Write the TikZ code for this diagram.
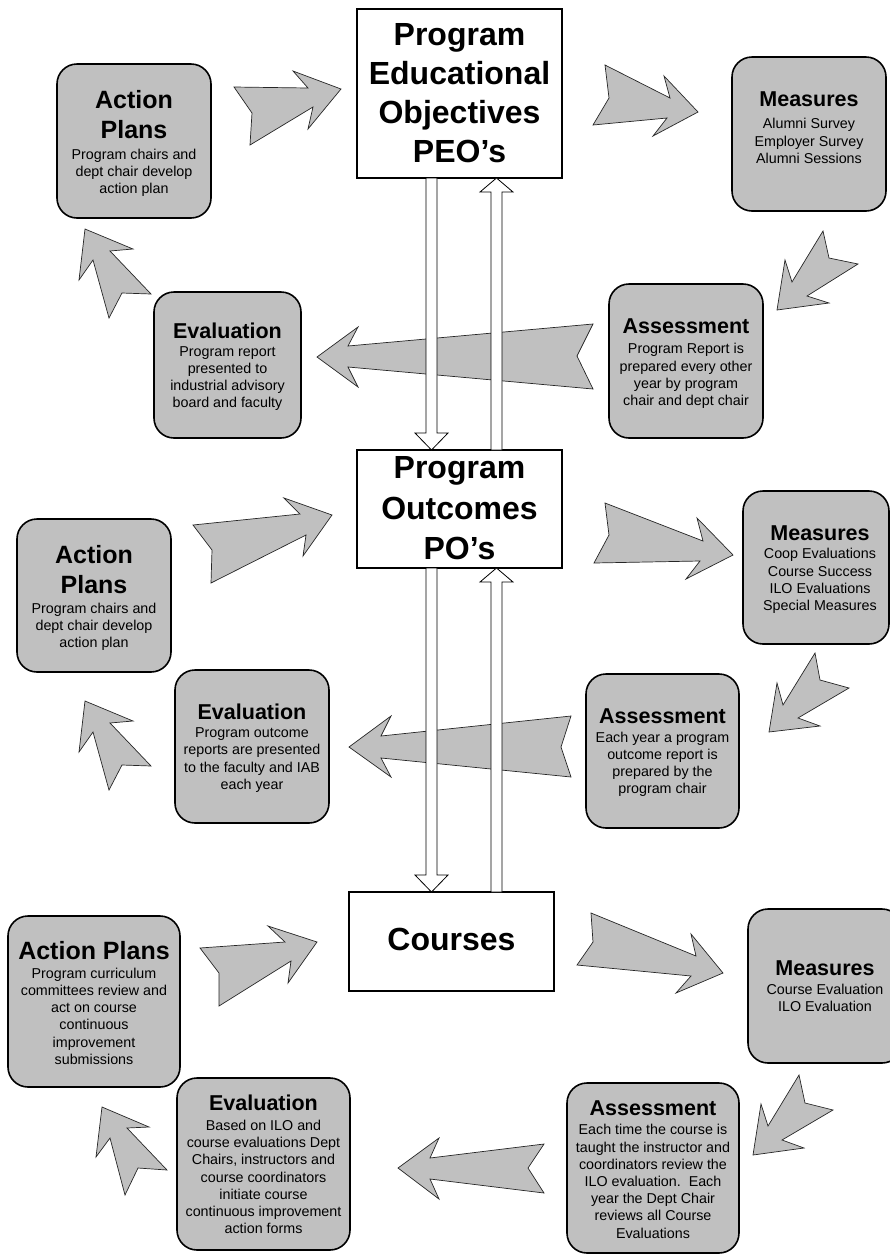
\documentclass[tikz,border=0pt]{standalone}
\usepackage{fontspec}
\setmainfont{Liberation Sans}
\usetikzlibrary{calc}
\definecolor{boxgray}{HTML}{C0C0C0}
\tikzset{
  gbox/.style={draw=black, line width=1.6pt, fill=boxgray, rounded corners=20pt, inner sep=0pt, outer sep=0pt},
  wbox/.style={draw=black, line width=1.6pt, fill=white, inner sep=0pt, outer sep=0pt},
  blockarrow/.style={draw=black!85, line width=0.7pt, fill=boxgray, line join=miter},
  varrow/.style={draw=black, line width=0.8pt, fill=white, line join=miter},
  bigtxt/.style={anchor=north, inner sep=0pt, align=center, font=\fontsize{32}{39}\selectfont\bfseries},
  ttl/.style={anchor=north, inner sep=0pt, align=center, font=\fontsize{21.5}{25}\selectfont\bfseries},
  ttlL/.style={anchor=north, inner sep=0pt, align=center, font=\fontsize{25}{30}\selectfont\bfseries},
  body/.style={anchor=north, inner sep=0pt, align=center, font=\fontsize{14.3}{17.2}\selectfont}
}
\newcommand\vdownarrow[3]{% x-ref coordinate, from node anchor, to node anchor
  \draw[varrow] ($(#1 |- #2)+(-5.5,0)$) -- ($(#1 |- #2)+(5.5,0)$) -- ($(#1 |- #3)+(5.5,-17)$)
    -- ($(#1 |- #3)+(16.5,-17)$) -- (#1 |- #3) -- ($(#1 |- #3)+(-16.5,-17)$)
    -- ($(#1 |- #3)+(-5.5,-17)$) -- cycle;}
\newcommand\vuparrow[3]{% x-ref coordinate, from node anchor (bottom), to node anchor (top)
  \draw[varrow] ($(#1 |- #2)+(-5.5,0)$) -- ($(#1 |- #2)+(5.5,0)$) -- ($(#1 |- #3)+(5.5,14)$)
    -- ($(#1 |- #3)+(16.5,14)$) -- (#1 |- #3) -- ($(#1 |- #3)+(-16.5,14)$)
    -- ($(#1 |- #3)+(-5.5,14)$) -- cycle;}
\begin{document}
\begin{tikzpicture}[x=1pt,y=-1pt]
\useasboundingbox (0,0) rectangle (890,1254);

% ---- block arrows: top tier
\draw[blockarrow] (234,87) -- (308,88) -- (293,71) -- (341,89) -- (308,129) -- (313,107) -- (250,145) -- (252,113) -- cycle;
\draw[blockarrow] (605,65) -- (670,98) -- (664,76) -- (698,112) -- (653,136) -- (667,118) -- (593,125) -- (609,98) -- cycle;
\draw[blockarrow] (777,310) -- (785,260) -- (792,282) -- (823,231) -- (829,258) -- (858,264) -- (807,296) -- (829,303) -- cycle;
\draw[blockarrow] (317,357) -- (358,327) -- (348,346) -- (593,324) -- (577,356) -- (593,389) -- (348,367) -- (358,387) -- cycle;
\draw[blockarrow] (85,229) -- (133,249) -- (110,251) -- (151,294) -- (122,293) -- (109,318) -- (93,260) -- (79,280) -- cycle;
% ---- middle tier
\draw[blockarrow] (193,525) -- (300,514) -- (284,498) -- (332,515) -- (303,556) -- (306,535) -- (211,583) -- (212,550) -- cycle;
\draw[blockarrow] (605,503) -- (703,541) -- (697,518) -- (733,555) -- (686,579) -- (700,561) -- (594,563) -- (609,535) -- cycle;
\draw[blockarrow] (769,732) -- (777,683) -- (783,705) -- (815,653) -- (820,680) -- (849,688) -- (798,718) -- (820,726) -- cycle;
\draw[blockarrow] (349,747) -- (391,716) -- (381,736) -- (571,716) -- (561,747) -- (571,777) -- (381,758) -- (391,777) -- cycle;
\draw[blockarrow] (85,701) -- (133,721) -- (110,723) -- (151,766) -- (122,765) -- (109,790) -- (93,732) -- (79,752) -- cycle;
% ---- bottom tier
\draw[blockarrow] (200,948) -- (285,942) -- (268,926) -- (317,942) -- (288,983) -- (291,961) -- (219,1006) -- (219,973) -- cycle;
\draw[blockarrow] (591,913) -- (696,956) -- (691,934) -- (723,973) -- (676,993) -- (691,976) -- (577,965) -- (593,942) -- cycle;
\draw[blockarrow] (753,1155) -- (761,1104) -- (768,1126) -- (799,1075) -- (805,1103) -- (833,1110) -- (782,1140) -- (804,1148) -- cycle;
\draw[blockarrow] (398,1168) -- (439,1138) -- (430,1158) -- (544,1144) -- (528,1168) -- (544,1193) -- (430,1179) -- (439,1199) -- cycle;
\draw[blockarrow] (102,1107) -- (149,1127) -- (127,1128) -- (167,1170) -- (138,1168) -- (125,1195) -- (110,1138) -- (96,1157) -- cycle;

% ---- boxes
\node[wbox, minimum width=205pt, minimum height=169pt] (peo) at (459.5,93.5) {};
\node[wbox, minimum width=205pt, minimum height=118pt] (po) at (459.5,509) {};
\node[wbox, minimum width=205pt, minimum height=99pt] (courses) at (451.5,941.5) {};

% ---- vertical double arrows
\coordinate (cdown) at (431.5,0);
\coordinate (cup) at (496.5,0);
\vdownarrow{cdown}{peo.south}{po.north}
\vuparrow{cup}{po.north}{peo.south}
\vdownarrow{cdown}{po.south}{courses.north}
\vuparrow{cup}{courses.north}{po.south}

\node[gbox, minimum width=154pt, minimum height=154pt] (ap1) at (134,141) {};
\node[gbox, minimum width=154pt, minimum height=154pt] (m1) at (809,134) {};
\node[gbox, minimum width=154pt, minimum height=154pt] (as1) at (686,361) {};
\node[gbox, minimum width=147pt, minimum height=146pt] (ev1) at (227.5,365) {};

\node[gbox, minimum width=154pt, minimum height=153pt] (ap2) at (94,595.5) {};
\node[gbox, minimum width=146pt, minimum height=153pt] (m2) at (816,567.5) {};
\node[gbox, minimum width=154pt, minimum height=153pt] (ev2) at (252,746.5) {};
\node[gbox, minimum width=153pt, minimum height=154pt] (as2) at (662.5,751) {};

\node[gbox, minimum width=172pt, minimum height=171pt] (ap3) at (94,1001.5) {};
\node[gbox, minimum width=154pt, minimum height=154pt] (m3) at (825,986) {};
\node[gbox, minimum width=173pt, minimum height=172pt] (ev3) at (263.5,1164) {};
\node[gbox, minimum width=172pt, minimum height=170pt] (as3) at (653,1168) {};

% ---- texts
\node[bigtxt] (peo-t) at (459.5,23.3) {Program\\Educational\\Objectives\\PEO’s};
\node[bigtxt, font=\fontsize{32}{40.5}\selectfont\bfseries] (po-t) at (459.5,456.7) {Program\\Outcomes\\PO’s};
\node[bigtxt] (courses-t) at (451.5,927.7) {Courses};

\node[ttlL] (ap1-t) at (134,90) {Action\\Plans};
\node[body] (ap1-b) at (134,149) {Program chairs and\\dept chair develop\\action plan};

\node[ttl] (m1-t) at (809,91.7) {Measures};
\node[body] (m1-b) at (809,118.3) {Alumni Survey\\Employer Survey\\Alumni Sessions};

\node[ttl] (as1-t) at (686,318.3) {Assessment};
\node[body] (as1-b) at (686,343.3) {Program Report is\\prepared every other\\year by program\\chair and dept chair};

\node[ttl] (ev1-t) at (227.5,322.3) {Evaluation};
\node[body] (ev1-b) at (227.5,346) {Program report\\presented to\\industrial advisory\\board and faculty};

\node[ttlL] (ap2-t) at (94,545) {Action\\Plans};
\node[body] (ap2-b) at (94,602.7) {Program chairs and\\dept chair develop\\action plan};

\node[ttl] (m2-t) at (820,525) {Measures};
\node[body] (m2-b) at (820,548.3) {Coop Evaluations\\Course Success\\ILO Evaluations\\Special Measures};

\node[ttl] (ev2-t) at (252,704) {Evaluation};
\node[body] (ev2-b) at (252,727.7) {Program outcome\\reports are presented\\to the faculty and IAB\\each year};

\node[ttl] (as2-t) at (662.5,708.3) {Assessment};
\node[body] (as2-b) at (662.5,731.7) {Each year a program\\outcome report is\\prepared by the\\program chair};

\node[ttlL] (ap3-t) at (94,940.7) {Action Plans};
\node[body] (ap3-b) at (94,967.7) {Program curriculum\\committees review and\\act on course\\continuous\\improvement\\submissions};

\node[ttl] (m3-t) at (825,960) {Measures};
\node[body] (m3-b) at (825,984) {Course Evaluation\\ILO Evaluation};

\node[ttl] (ev3-t) at (263.5,1095) {Evaluation};
\node[body] (ev3-b) at (263.5,1120) {Based on ILO and\\course evaluations Dept\\Chairs, instructors and\\course coordinators\\initiate course\\continuous improvement\\action forms};

\node[ttl] (as3-t) at (653,1100.7) {Assessment};
\node[body] (as3-b) at (653,1124.3) {Each time the course is\\taught the instructor and\\coordinators review the\\ILO evaluation.\ \ Each\\year the Dept Chair\\reviews all Course\\Evaluations};
\end{tikzpicture}
\end{document}
